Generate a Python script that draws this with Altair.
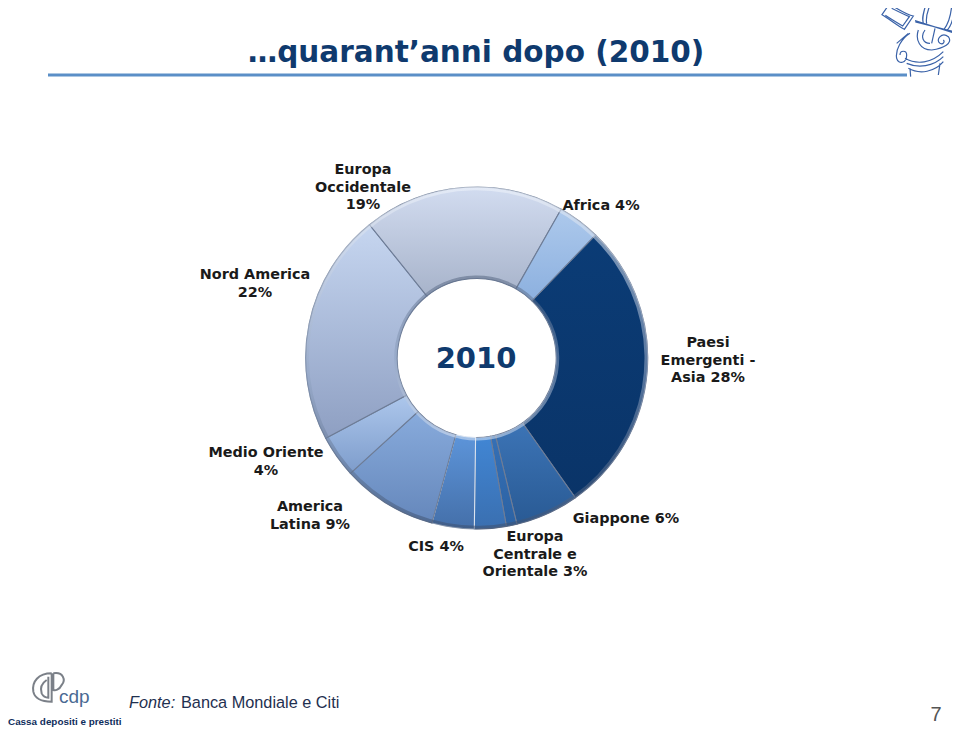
import math
import altair as alt
import pandas as pd

# ---- data ----
names = ["Paesi Emergenti - Asia", "Giappone", "Altri", "Europa Centrale e Orientale", "CIS",
         "America Latina", "Medio Oriente", "Nord America", "Europa Occidentale", "Africa"]
values = [28, 6, 1, 3, 4, 9, 4, 22, 19, 4]
labels = ["Europa\nOccidentale\n19%", "Africa 4%", "Nord America\n22%", "Paesi\nEmergenti -\nAsia 28%",
          "Medio Oriente\n4%", "America\nLatina 9%", "CIS 4%", "Giappone 6%",
          "Europa\nCentrale e\nOrientale 3%"]
title_text = "…quarant’anni dopo (2010)"

# ---- style / layout ----
FONT = "DejaVu Sans"
top_colors = ["#0b3c76", "#3c74b6", "#3570b6", "#4186d4", "#5d95da", "#88abdc", "#adc7ec", "#c6d6f0", "#d2dcf0", "#adc9ec"]
bot_colors = ["#0a3468", "#295a94", "#2c62a3", "#3a6fb0", "#446fa9", "#6587bb", "#7d9ccb", "#8e9fc2", "#a7b3ca", "#8cb0df"]
edge_colors = ["#6d7c96", "#6d7c96", "#6d7c96", "#6d7c96", "#dbe4f0", "#6d7c96", "#6d7c96", "#6d7c96", "#6d7c96", "#6d7c96"]
CX, CY = 476.7 - 8, 358 - 8
label_xy = [(363, 174), (601, 210), (255, 279), (708, 347), (266, 457), (310, 511), (436, 551), (626, 523), (535, 541)]

def px(x):
    return x - 8

df = pd.DataFrame({"name": names, "value": values})
df["end"] = df["value"].cumsum()
df["start"] = df["end"] - df["value"]

start = math.radians(44)
theta_scale = alt.Scale(domain=[0, 100], range=[start, start + 2 * math.pi])

layers = []
ring_df = pd.DataFrame({"a": [0], "b": [100]})
for i, n in enumerate(names):
    layers.append(
        alt.Chart(df).transform_filter(alt.datum.name == n).mark_arc(
            radius=171, radius2=79.5, stroke=edge_colors[i], strokeWidth=1.1,
            fill=alt.Gradient(gradient="linear", x1=0, y1=0, x2=0, y2=1,
                              stops=[alt.GradientStop(color=top_colors[i], offset=0),
                                     alt.GradientStop(color=bot_colors[i], offset=1)]),
        ).encode(
            theta=alt.Theta("start:Q", scale=theta_scale, stack=None),
            theta2="end:Q", x=alt.value(CX), y=alt.value(CY),
        )
    )
# bevel rims (outer and inner)
layers.append(
    alt.Chart(ring_df).mark_arc(
        radius=171.5, radius2=167.5, opacity=0.55,
        fill=alt.Gradient(gradient="linear", x1=0, y1=0, x2=0, y2=1,
                          stops=[alt.GradientStop(color="#f2f6fc", offset=0),
                                 alt.GradientStop(color="#93a6c4", offset=0.55),
                                 alt.GradientStop(color="#3c4f6e", offset=1)]),
    ).encode(theta=alt.Theta("a:Q", scale=theta_scale, stack=None), theta2="b:Q",
             x=alt.value(CX), y=alt.value(CY))
)
layers.append(
    alt.Chart(ring_df).mark_arc(
        radius=82.5, radius2=79.5, opacity=0.5,
        fill=alt.Gradient(gradient="linear", x1=0, y1=0, x2=0, y2=1,
                          stops=[alt.GradientStop(color="#4f5f7a", offset=0),
                                 alt.GradientStop(color="#8fa3c2", offset=0.5),
                                 alt.GradientStop(color="#e8eef8", offset=1)]),
    ).encode(theta=alt.Theta("a:Q", scale=theta_scale, stack=None), theta2="b:Q",
             x=alt.value(CX), y=alt.value(CY))
)

def text(t, x, y, size, color="#1a1a1a", weight="bold", align="center", font=FONT, style="normal"):
    return alt.Chart(pd.DataFrame({"t": [t]})).mark_text(
        font=font, fontSize=size, fontWeight=weight, fontStyle=style, align=align, baseline="alphabetic",
        color=color, lineBreak="\n", lineHeight=17.7,
    ).encode(text="t:N", x=alt.value(px(x)), y=alt.value(px(y)))

for t, (x, y) in zip(labels, label_xy):
    layers.append(text(t, x, y, 14.4))

layers.append(text("2010", 476, 368, 29, color="#0f3a6e"))
layers.append(text(title_text, 476, 62, 29.5, color="#0f3a6e"))
layers.append(text("Fonte:", 129, 708, 16.3, color="#1f3050", weight="normal", align="left", style="italic", font="Liberation Sans"))
layers.append(text("Banca Mondiale e Citi", 181, 708, 16.3, color="#1f3050", weight="normal", align="left", font="Liberation Sans"))
layers.append(text("Cassa depositi e prestiti", 8, 725, 9.9, color="#0f2e5c", align="left", font="Liberation Sans"))
layers.append(text("cdp", 59, 703, 19, color="#4a6a93", weight="normal", align="left", font="Liberation Sans"))
layers.append(text("7", 936, 721, 20, color="#555555", weight="normal", font="Liberation Sans"))

# rule under the title
layers.append(
    alt.Chart(pd.DataFrame({"a": [0]})).mark_rule(color="#5b8fc7", strokeWidth=3).encode(
        x=alt.value(px(48)), x2=alt.value(px(907)), y=alt.value(px(75)))
)

# decorative capital (top right) and cdp logo, as symbol paths
capital = ("M88 12 C110 25 140 45 160 48 L133 88 C110 75 85 55 66 44 L88 12 "
           "M95 25 C115 35 135 45 148 50 L128 78 C110 68 90 55 76 46 "
           "M198 12 C190 40 185 55 190 68 M210 15 C200 40 197 55 200 70 "
           "M218 18 C240 25 262 20 285 12 C282 50 272 80 262 90 M275 18 C272 50 262 75 252 88 "
           "M165 62 L285 100 M166 66 L285 96 "
           "M150 100 C125 115 105 150 110 175 C115 195 140 190 140 165 C140 150 120 150 120 165 "
           "M175 90 C165 120 180 150 215 150 C250 145 280 130 265 110 C245 95 225 120 240 130 C250 135 255 125 250 120 "
           "M195 90 C180 110 190 130 210 130 "
           "M135 175 C170 195 215 190 250 155 M140 190 C175 205 220 200 250 170 M145 205 C180 225 225 215 250 185 "
           "M150 205 L152 230 M240 190 L235 225 M110 130 L145 100 M225 85 L215 130")
layers.append(
    alt.Chart(pd.DataFrame({"a": [0]})).mark_point(
        shape=capital, size=4 / 9, filled=False, stroke="#3a62a8", strokeWidth=1.2, opacity=1,
    ).encode(x=alt.value(px(860)), y=alt.value(px(0)))
)
logo = ("M155 40 C115 40 95 65 100 95 C105 120 130 125 155 125 L155 40 "
        "M140 60 C125 70 120 85 125 100 C130 110 140 113 145 113 L145 50 "
        "M160 40 C190 35 198 60 185 75 C178 90 165 92 160 90 L160 40")
layers.append(
    alt.Chart(pd.DataFrame({"a": [0]})).mark_point(
        shape=logo, size=4 / 9, filled=False, stroke="#7b8088", strokeWidth=2, opacity=1,
    ).encode(x=alt.value(px(0)), y=alt.value(px(660)))
)

chart = alt.layer(*layers).properties(
    width=944, height=719, padding=0, background="white",
    autosize=alt.AutoSizeParams(type="none"),
).configure_view(strokeWidth=0)

chart.save("out.html", embed_options={"renderer": "svg", "actions": False})
